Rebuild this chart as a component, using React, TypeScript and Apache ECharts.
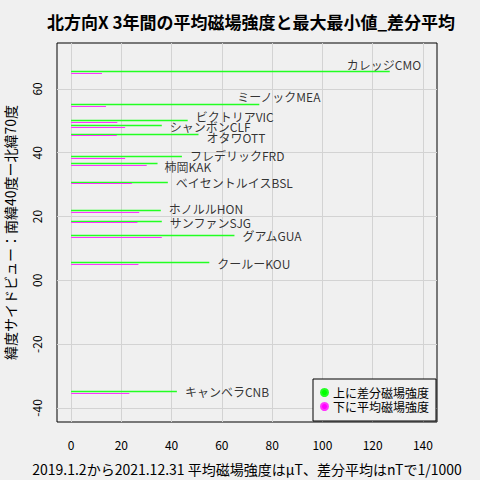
import React, { useEffect, useRef } from "react";
import * as echarts from "echarts";

// station names (label text), in plot order from north to south
const stationCodes = ["CMO", "MEA", "VIC", "CLF", "OTT", "FRD", "KAK", "BSL", "HON", "SJG", "GUA", "KOU", "CNB"];
const stationNames = [
  "カレッジCMO",
  "ミーノックMEA",
  "ビクトリアVIC",
  "シャンボンCLF",
  "オタワOTT",
  "フレデリックFRD",
  "柿岡KAK",
  "ベイセントルイスBSL",
  "ホノルルHON",
  "サンファンSJG",
  "グアムGUA",
  "クールーKOU",
  "キャンベラCNB",
];
const latitudes = [64.9, 54.7, 49.7, 48.0, 45.4, 38.4, 36.2, 30.3, 21.4, 18.1, 13.6, 5.2, -35.3];
// 差分平均 (nT / 1000 scale)
const diffMeans = [126.8, 74.9, 46.4, 36.1, 50.7, 44.1, 34.4, 38.5, 35.7, 36.1, 65.0, 55.0, 42.1];
// 平均磁場強度 (μT)
const fieldMeans = [12.3, 13.9, 18.4, 21.5, 18.2, 21.5, 30.1, 24.2, 27.1, 26.4, 36.1, 26.8, 23.2];

const xTicks = [0, 20, 40, 60, 80, 100, 120, 140];
const yTicks = [-40, -20, 0, 20, 40, 60];

const X_MIN = -5.6;
const X_MAX = 145.6;
const Y_MIN = -44.4;
const Y_MAX = 74.4;
const GREEN_UP = 0.5;

// manual label nudges in px (text was moved to dodge overlaps)
const labelNudge: Record<string, [number, number]> = {
  CMO: [-51, -7],
  MEA: [-30, -8],
  VIC: [0, -4],
  CLF: [0, 1],
  OTT: [0, 4],
  FRD: [0, -1],
  KAK: [-1, 3],
  HON: [0, -2],
  SJG: [0, 1],
  KOU: [0, 1],
};

const GREEN_NAME = "上に差分磁場強度";
const MAGENTA_NAME = "下に平均磁場強度";
const FONT = "'Noto Sans CJK JP', 'Noto Sans', sans-serif";

const App = () => {
  const chartRef = useRef<HTMLDivElement>(null);

  useEffect(() => {
    document.body.style.margin = "0";
    document.body.style.background = "#f0f0f0";
    if (!chartRef.current) return undefined;
    const chart = echarts.init(chartRef.current, null, { renderer: "svg" });

    const gridLines = [
      ...xTicks.map((t) => ({ coords: [[t, Y_MIN], [t, Y_MAX]] })),
      ...yTicks.map((t) => ({ coords: [[X_MIN, t], [X_MAX, t]] })),
    ];

    const options: echarts.EChartsOption = {
      animation: false,
      backgroundColor: "#f0f0f0",
      textStyle: { fontFamily: FONT, color: "#000" },
      title: {
        text: "北方向X 3年間の平均磁場強度と最大最小値_差分平均",
        left: 246,
        top: 8,
        textAlign: "center",
        textStyle: { fontSize: 17, fontWeight: "bold", fontFamily: FONT, color: "#000" },
      },
      grid: {
        left: 57,
        right: 43,
        top: 43,
        bottom: 58,
        show: true,
        borderColor: "#000",
        borderWidth: 1,
        backgroundColor: "transparent",
        outerBoundsMode: "none",
      } as any,
      legend: {
        left: 313,
        top: 379,
        orient: "vertical",
        backgroundColor: "#f0f0f0",
        borderColor: "#000",
        borderWidth: 1,
        borderRadius: 0,
        padding: [7, 7, 8, 7],
        itemWidth: 7,
        itemHeight: 7,
        itemGap: 1,
        textStyle: { fontSize: 12, fontFamily: FONT, color: "#000", lineHeight: 13 },
        data: [
          { name: GREEN_NAME, icon: "circle", itemStyle: { color: "#00ff00" } },
          { name: MAGENTA_NAME, icon: "circle", itemStyle: { color: "#ff00ff" } },
        ],
      },
      xAxis: {
        type: "value",
        min: X_MIN,
        max: X_MAX,
        name: "2019.1.2から2021.12.31 平均磁場強度はμT、差分平均はnTで1/1000",
        nameLocation: "middle",
        nameGap: 40,
        nameTextStyle: { fontSize: 14, fontFamily: FONT, color: "#000" },
        axisLine: { show: false },
        axisTick: { show: true, length: 7, customValues: xTicks, lineStyle: { color: "#888" } } as any,
        axisLabel: { customValues: xTicks, fontSize: 12, margin: 16, color: "#000" } as any,
        splitLine: { show: false },
      },
      yAxis: {
        type: "value",
        min: Y_MIN,
        max: Y_MAX,
        name: "緯度サイドビュー：南緯40度ー北緯70度",
        nameLocation: "middle",
        nameGap: 40,
        nameTextStyle: { fontSize: 14, fontFamily: FONT, color: "#000" },
        axisLine: { show: false },
        axisTick: { show: true, length: 7, customValues: yTicks, lineStyle: { color: "#888" } } as any,
        axisLabel: {
          customValues: yTicks,
          fontSize: 12,
          margin: 15,
          rotate: 90,
          color: "#000",
          formatter: (v: number) => (v === 0 ? "00" : String(v)),
        } as any,
        splitLine: { show: false },
      },
      series: [
        {
          type: "lines",
          coordinateSystem: "cartesian2d",
          silent: true,
          z: 1,
          lineStyle: { color: "#d3d3d3", width: 1, opacity: 1 },
          data: gridLines,
        } as any,
        {
          name: GREEN_NAME,
          type: "lines",
          coordinateSystem: "cartesian2d",
          silent: true,
          z: 3,
          color: "#00ff00",
          lineStyle: { color: "#22ff22", width: 1.4, opacity: 1 },
          data: diffMeans.map((v, i) => ({
            coords: [[0, latitudes[i] + GREEN_UP], [v, latitudes[i] + GREEN_UP]],
          })),
        } as any,
        {
          name: MAGENTA_NAME,
          type: "lines",
          coordinateSystem: "cartesian2d",
          silent: true,
          z: 3,
          color: "#ff00ff",
          lineStyle: { color: "#ff33ff", width: 1.2, opacity: 1 },
          data: fieldMeans.map((v, i) => ({
            coords: [[0, latitudes[i]], [v, latitudes[i]]],
          })),
        } as any,
        {
          type: "scatter",
          silent: true,
          symbolSize: 0,
          z: 4,
          data: diffMeans.map((v, i) => ({
            value: [v, latitudes[i] + GREEN_UP],
            name: stationNames[i],
            label: {
              show: true,
              position: "right",
              distance: 8,
              offset: labelNudge[stationCodes[i]] || [0, 0],
              formatter: stationNames[i],
              fontSize: 12,
              lineHeight: 10,
              fontFamily: FONT,
              color: "#000",
            },
          })),
        },
      ],
    };
    chart.setOption(options);
    return () => {
      chart.dispose();
    };
  }, []);

  return <div ref={chartRef} style={{ width: "480px", height: "480px" }} />;
};

export default App;
